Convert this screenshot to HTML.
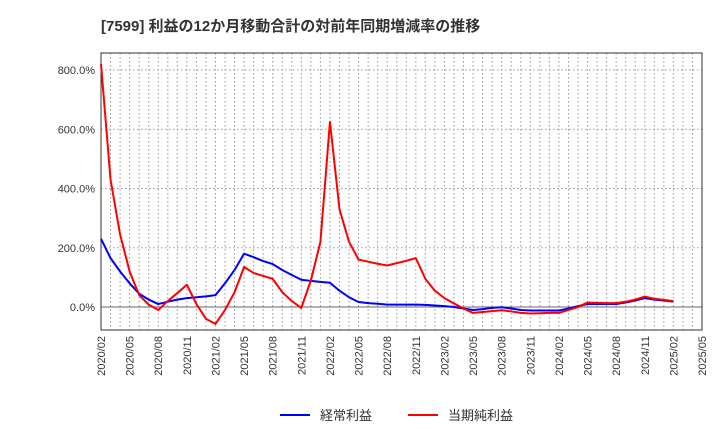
<!DOCTYPE html>
<html><head><meta charset="utf-8"><style>
body{margin:0;background:#fff;font-family:"Liberation Sans","Noto Sans CJK JP",sans-serif;}
</style></head><body>
<svg id="c" width="720" height="440" xmlns="http://www.w3.org/2000/svg">
<text x="101" y="31" font-size="15" font-weight="bold" fill="#333" font-family="Liberation Sans, Noto Sans CJK JP, sans-serif">[7599]  利益の12か月移動合計の対前年同期増減率の推移</text>
<g id="grid"></g><g id="axes"></g><g id="series"></g>
<g>
<line x1="280" y1="415" x2="310" y2="415" stroke="#0000ff" stroke-width="2"/>
<text x="320" y="420" font-size="13" fill="#333">経常利益</text>
<line x1="408" y1="415" x2="438" y2="415" stroke="#ff0000" stroke-width="2"/>
<text x="448" y="420" font-size="13" fill="#333">当期純利益</text>
</g>
</svg>
<script>
const xLabels=["2020/02","2020/05","2020/08","2020/11","2021/02","2021/05","2021/08","2021/11","2022/02","2022/05","2022/08","2022/11","2023/02","2023/05","2023/08","2023/11","2024/02","2024/05","2024/08","2024/11","2025/02","2025/05"];
const yTicks=[0,200,400,600,800];
const ordinary=[230,165,120,80,45,25,10,18,25,30,33,36,40,80,125,180,168,155,145,125,108,92,88,85,82,55,33,17,13,11,8,8,8,8,7,5,3,0,-5,-10,-7,-3,-1,-5,-10,-12,-12,-12,-12,-5,3,10,10,10,10,15,22,30,25,22,18];
const net=[820,430,245,120,40,8,-10,20,47,75,10,-40,-57,-10,50,135,115,105,95,50,20,-3,90,220,625,330,220,160,153,146,140,148,156,165,95,55,30,12,-5,-20,-17,-14,-11,-15,-20,-22,-21,-20,-20,-10,0,15,14,13,13,18,25,35,28,24,20];
const X0=101,X1=702,Y0=53,Y1=330,NM=63;
const xs=i=>X0+(X1-X0)*i/NM;
const ys=v=>307-v*(307-70)/800;
const NS="http://www.w3.org/2000/svg";
function mk(p,t,a){const e=document.createElementNS(NS,t);for(const k in a)e.setAttribute(k,a[k]);p.appendChild(e);return e;}
const g=document.getElementById('grid'),ax=document.getElementById('axes'),se=document.getElementById('series');
for(let m=1;m<NM;m++){const l=mk(g,'line',{x1:xs(m),x2:xs(m),y1:Y0,y2:Y1,stroke:'#999','stroke-dasharray':'1.5,2.5','stroke-width':1});
}
yTicks.forEach(v=>{const l=mk(g,'line',{x1:X0,x2:X1,y1:ys(v),y2:ys(v),stroke:v===0?'#666':'#999','stroke-dasharray':v===0?'':'1.5,2.5','stroke-width':1});

const t=mk(ax,'text',{x:X0-6,y:ys(v)+4,'text-anchor':'end','font-size':11,fill:'#333'});t.textContent=v.toFixed(1)+'%';
});
const fr=mk(ax,'rect',{x:X0,y:Y0,width:X1-X0,height:Y1-Y0,fill:'none',stroke:'#333','stroke-width':1});

xLabels.forEach((s,i)=>{const x=xs(i*3);const t=mk(ax,'text',{x:x+4,y:Y1+6,'text-anchor':'end','font-size':11,fill:'#333',transform:`rotate(-90 ${x+4} ${Y1+6})`});t.textContent=s;
});
function line(d,c,n){const p=mk(se,'polyline',{points:d.map((v,i)=>xs(i)+','+ys(v)).join(' '),fill:'none',stroke:c,'stroke-width':2,'stroke-linejoin':'round'});
}
line(ordinary,'#0000ff','ordinary-profit-line');
line(net,'#ff0000','net-profit-line');
</script>
</body></html>
